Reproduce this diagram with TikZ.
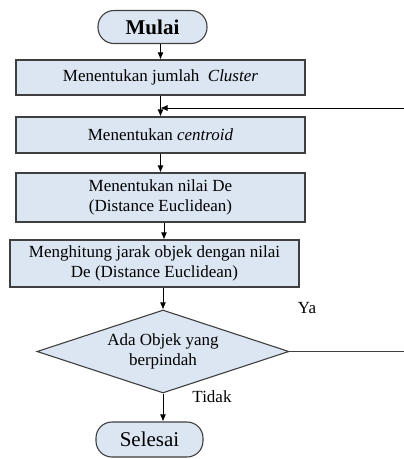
\documentclass[tikz,border=0pt]{standalone}
\usepackage{fontspec}
\setmainfont{Liberation Serif}
\usepackage{tikz}
\usetikzlibrary{arrows.meta,shapes.geometric}
\definecolor{boxfill}{HTML}{DCE6F2}
\definecolor{boxline}{HTML}{3F3F3F}
\tikzset{%
	startstop/.style = {draw=boxline, fill=boxfill, line width=1.1pt, rectangle, rounded corners=16pt, inner sep=0pt, text centered, font=\fontsize{21}{24}\selectfont},
	process/.style   = {draw=boxline, fill=boxfill, line width=1.1pt, rectangle, minimum width=289pt, inner sep=0pt, align=center, font=\fontsize{17}{20.5}\selectfont},
	decision/.style  = {draw=boxline, fill=boxfill, line width=1.1pt, diamond, aspect=3, inner sep=0pt, minimum width=252pt, minimum height=83pt, align=center, font=\fontsize{17}{20.5}\selectfont},
	label/.style     = {inner sep=0pt, font=\fontsize{17}{20}\selectfont},
	arrow/.style     = {line width=0.9pt, -{Latex[length=7pt,width=6pt]}},
	line/.style      = {draw=boxline, line width=1.1pt},
}

\begin{document}
\begin{tikzpicture}[x=1pt,y=-1pt]
	\useasboundingbox (0,0) rectangle (404,459);
	\node [startstop, minimum width=109pt, minimum height=33pt] (mulai) at (152.5,27) {\bfseries Mulai};
	\node [process, minimum height=35pt] (clus) at (160.5,77.5) {Menentukan jumlah\ \ \textit{Cluster}};
	\node [process, minimum height=36pt] (cent) at (160.5,135) {Menentukan \textit{centroid}};
	\node [process, minimum height=49pt] (nilai) at (160.5,197.5) {Menentukan nilai De\\(Distance Euclidean)};
	\node [process, minimum height=47pt] (jarak) at (154.5,263.5) {Menghitung jarak objek dengan nilai\\De (Distance Euclidean)};
	\node [decision] (pindah) at (163,351.5) {Ada Objek yang\\berpindah};
	\node [startstop, minimum width=107pt, minimum height=35pt] (selesai) at (149.5,439.5) {Selesai};
	\node [label] (ya) at (307,308) {Ya};
	\node [label] (tidak) at (212,397) {Tidak};
	\coordinate (join) at (160.5,108);
	\coordinate (loopin) at (404,108);
	\coordinate (yaout) at (404,351.5);

	\draw[arrow] (mulai.south -| 160.5,0) -- (clus.north -| 160.5,0);
	\draw[arrow] (clus.south) -- (cent.north);
	\draw[arrow] (loopin) -- (join);
	\draw[arrow] (cent.south) -- (nilai.north);
	\draw[arrow] (nilai.south -| 164,0) -- (jarak.north -| 164,0);
	\draw[arrow] (jarak.south -| pindah.north) -- (pindah.north);
	\draw[arrow] (pindah.south) -- (pindah.south |- selesai.north);
	\draw[line] (pindah.east) -- (yaout);
\end{tikzpicture}
\end{document}
